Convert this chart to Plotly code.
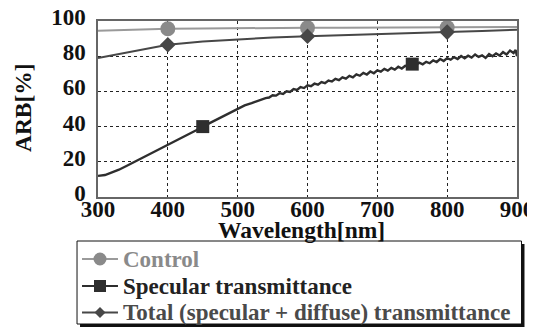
import plotly.graph_objects as go

# ---------------- data ----------------
control_wl = [300, 350, 400, 450, 500, 550, 600, 650, 700, 750, 800, 850, 900]
control_val = [94.5, 95.2, 95.6, 95.8, 96.0, 96.0, 96.1, 96.1, 96.2, 96.3, 96.3, 96.5, 96.6]

total_wl = [300, 320, 350, 380, 400, 450, 500, 550, 600, 650, 700, 750, 800, 850, 900]
total_val = [79.0, 80.5, 82.8, 85.0, 86.5, 88.3, 89.6, 90.6, 91.3, 92.0, 92.6, 93.2, 93.7, 94.3, 95.0]

spec_wl = [300, 310, 320, 330, 340, 350, 360, 370, 380, 390, 400, 410, 420, 430, 440,
           450, 460, 470, 480, 490, 500, 510, 520, 530, 540,
           545, 550, 555, 560, 565, 570, 575, 580, 585, 590, 595, 600, 605, 610, 615,
           620, 625, 630, 635, 640, 645, 650, 655, 660, 665, 670, 675, 680, 685, 690,
           695, 700, 705, 710, 715, 720, 725, 730, 735, 740, 745, 750, 755, 760, 765,
           770, 775, 780, 785, 790, 795, 800, 805, 810, 815, 820, 825, 830, 835, 840,
           845, 850, 855, 860, 865, 870, 875, 880, 885, 890, 895, 898, 900]
spec_val = [12.0, 12.5, 14.0, 15.5, 17.5, 19.5, 21.5, 23.5, 25.5, 27.5, 29.5, 31.5, 33.5, 35.5, 37.8,
            40.0, 42.0, 44.0, 46.2, 48.2, 50.3, 52.0, 53.3, 54.8, 56.2,
            56.5, 57.8, 57.6, 59.0, 58.6, 60.1, 59.7, 61.3, 60.8, 62.4, 61.9, 63.5, 63.0, 64.4, 63.8,
            65.3, 64.7, 66.2, 65.6, 67.1, 66.4, 68.0, 67.2, 68.8, 68.0, 69.7, 68.9, 70.5, 69.6, 71.3,
            70.3, 72.0, 71.2, 72.8, 71.8, 73.4, 72.4, 74.0, 73.0, 74.6, 74.2, 75.5, 75.0, 76.3, 75.4,
            76.8, 76.0, 77.6, 76.7, 78.4, 77.3, 78.9, 78.0, 79.5, 78.4, 80.1, 78.8, 80.3, 79.2, 81.0,
            79.6, 80.5, 79.0, 81.2, 80.0, 81.6, 80.4, 82.3, 81.0, 83.2, 81.8, 83.5, 80.0]

control_marks = [400, 600, 800]
total_marks = [400, 600, 800]
spec_marks = [450, 750]

x_ticks = [300, 400, 500, 600, 700, 800, 900]
y_ticks = [0, 20, 40, 60, 80, 100]

series_names = ["Control", "Specular transmittance", "Total (specular + diffuse) transmittance"]
x_title = "Wavelength[nm]"
y_title = "ARB[%]"

# ---------------- style ----------------
SERIF = "Liberation Serif, Times New Roman, serif"
C_CONTROL_LINE = "#9a9a9a"
C_CONTROL_MARK = "#8a8a8a"
C_SPEC = "#2e2e2e"
C_TOTAL = "#474747"

OFF = 8                      # page body margin of the browser
W, H = 535 - OFF, 327 - OFF  # figure size so the page fits the window
# plot area in window pixels
SL, SR, ST, SB = 98, 517.5, 21, 197
L, R, T, B = SL - OFF, SR - OFF, ST - OFF, SB - OFF


def px(x):
    """window pixel x -> paper"""
    return (x - OFF - L) / (R - L)


def py(y):
    """window pixel y -> paper"""
    return (B - (y - OFF)) / (B - T)


def pick(wl, val, marks):
    return [val[wl.index(m)] for m in marks]


fig = go.Figure()

# lines
fig.add_trace(go.Scatter(x=control_wl, y=control_val, mode="lines",
                         line=dict(color=C_CONTROL_LINE, width=2), showlegend=False))
fig.add_trace(go.Scatter(x=total_wl, y=total_val, mode="lines",
                         line=dict(color=C_TOTAL, width=2), showlegend=False))
fig.add_trace(go.Scatter(x=spec_wl, y=spec_val, mode="lines",
                         line=dict(color=C_SPEC, width=2.4), showlegend=False))

# markers
fig.add_trace(go.Scatter(x=control_marks, y=pick(control_wl, control_val, control_marks), mode="markers",
                         marker=dict(symbol="circle", size=15, color=C_CONTROL_MARK), showlegend=False,
                         cliponaxis=False))
fig.add_trace(go.Scatter(x=total_marks, y=pick(total_wl, total_val, total_marks), mode="markers",
                         marker=dict(symbol="diamond", size=12, color=C_TOTAL), showlegend=False))
fig.add_trace(go.Scatter(x=spec_marks, y=pick(spec_wl, spec_val, spec_marks), mode="markers",
                         marker=dict(symbol="square", size=13, color=C_SPEC), showlegend=False))

# ---------------- manual legend ----------------
shapes = []
annotations = []
shapes.append(dict(type="rect", xref="paper", yref="paper", x0=px(80), x1=px(525), y0=py(244), y1=py(327),
                   fillcolor="#111111", line=dict(width=0), layer="above"))
shapes.append(dict(type="rect", xref="paper", yref="paper", x0=px(77), x1=px(522), y0=py(241), y1=py(324),
                   fillcolor="white", line=dict(color="#111111", width=1), layer="above"))

legend_rows = [259, 286, 312.5]
legend_colors_line = [C_CONTROL_LINE, C_SPEC, C_TOTAL]
legend_colors_text = ["#8a8a8a", "#222222", "#4a4a4a"]
for i, yy in enumerate(legend_rows):
    shapes.append(dict(type="line", xref="paper", yref="paper", x0=px(82), x1=px(118), y0=py(yy), y1=py(yy),
                       line=dict(color=legend_colors_line[i], width=2.2), layer="above"))
    annotations.append(dict(xref="paper", yref="paper", x=px(121), y=py(yy), xanchor="left", yanchor="middle",
                            text=series_names[i], showarrow=False,
                            font=dict(family=SERIF, size=23, color=legend_colors_text[i], weight="bold")))

cx = 100
shapes.append(dict(type="circle", xref="paper", yref="paper", x0=px(cx - 6.5), x1=px(cx + 6.5),
                   y0=py(legend_rows[0] + 6.5), y1=py(legend_rows[0] - 6.5),
                   fillcolor=C_CONTROL_MARK, line=dict(width=0), layer="above"))
shapes.append(dict(type="rect", xref="paper", yref="paper", x0=px(cx - 6), x1=px(cx + 6),
                   y0=py(legend_rows[1] + 6), y1=py(legend_rows[1] - 6),
                   fillcolor=C_SPEC, line=dict(width=0), layer="above"))
yd = legend_rows[2]
d = 5.5
path = "M {} {} L {} {} L {} {} L {} {} Z".format(px(cx - d), py(yd), px(cx), py(yd - d),
                                                  px(cx + d), py(yd), px(cx), py(yd + d))
shapes.append(dict(type="path", xref="paper", yref="paper", path=path,
                   fillcolor=C_TOTAL, line=dict(width=0), layer="above"))

# axis titles
titlefont = dict(family=SERIF, size=23.5, color="#111111", weight="bold")
annotations.append(dict(xref="paper", yref="paper", x=px(302), y=py(230), xanchor="center", yanchor="middle",
                        text=x_title, showarrow=False, font=titlefont, borderpad=0))
annotations.append(dict(xref="paper", yref="paper", x=px(23), y=py(108), xanchor="center", yanchor="middle",
                        text=y_title, showarrow=False, textangle=-90, font=titlefont, borderpad=0))

tickfont = dict(family=SERIF, size=23, color="#111111", weight="bold")

fig.update_layout(
    width=W, height=H,
    margin=dict(l=L, r=W - R, t=T, b=H - B, pad=0),
    paper_bgcolor="white", plot_bgcolor="white",
    showlegend=False,
    shapes=shapes, annotations=annotations,
    xaxis=dict(range=[300, 900], tickvals=x_ticks, ticktext=[str(v) for v in x_ticks],
               showgrid=True, gridcolor="#222222", griddash="dot", gridwidth=1,
               showline=True, linecolor="#666666", linewidth=1.5, mirror=True,
               zeroline=False, ticks="", tickfont=tickfont, automargin=False,
               ticklabelstandoff=-9, ticklabeloverflow="allow"),
    yaxis=dict(range=[0, 100], tickvals=y_ticks, ticktext=[str(v) for v in y_ticks],
               showgrid=True, gridcolor="#222222", griddash="dot", gridwidth=1,
               showline=True, linecolor="#666666", linewidth=1.5, mirror=True,
               zeroline=False, ticks="", tickfont=tickfont, ticklabelstandoff=6,
               ticklabelshift=-4, automargin=False, ticklabeloverflow="allow"),
)

fig.write_html("out.html")
